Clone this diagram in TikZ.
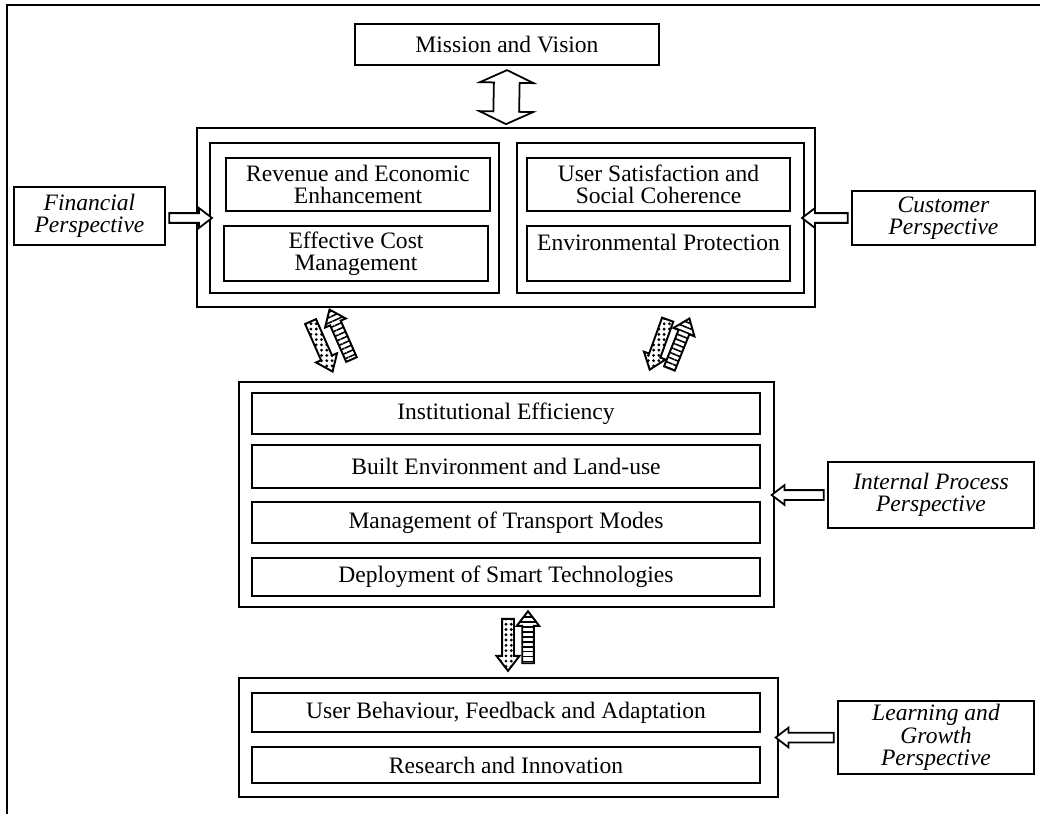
\documentclass[tikz,border=0pt]{standalone}
\usepackage{fontspec}
\setmainfont{Liberation Serif}
\usetikzlibrary{shapes.arrows,calc,patterns.meta}

\newcommand\diagfont{\fontsize{13.4}{12.8}\selectfont}
% block arrow node stretched between two points
\newcommand\blockarrow[3][]{%
  \path let \p1=(#2), \p2=(#3),
    \n1={veclen(\x2-\x1,\y2-\y1)}, \n2={atan2(\y2-\y1,\x2-\x1)} in
    node[#1, minimum height=\n1, rotate=\n2] at ($(\p1)!0.5!(\p2)$) {};}

\tikzset{
  frame/.style={line width=1pt},
  outerbox/.style={draw, line width=1pt, inner sep=0pt},
  groupbox/.style={draw, line width=1.4pt, inner sep=0pt},
  itembox/.style={draw, line width=1.3pt, align=center, inner sep=0pt, font=\diagfont},
  perspbox/.style={draw, line width=1.2pt, align=center, inner sep=0pt, font=\diagfont\itshape},
  linkarrow/.style={single arrow, draw, fill=white, line width=1pt, inner xsep=0pt,
    inner ysep=0.08cm, single arrow head extend=0.1cm, single arrow tip angle=75,
    minimum width=0.36cm},
  linkboth/.style={double arrow, draw, fill=white, line width=1pt, inner xsep=0pt,
    inner ysep=0.24cm, double arrow head extend=0.28cm, double arrow tip angle=130,
    minimum width=1.04cm},
  flowarrow/.style={single arrow, draw, line width=1.1pt, inner xsep=0pt,
    inner ysep=0.1cm, single arrow head extend=0.11cm, single arrow tip angle=75,
    minimum width=0.42cm},
  dotflow/.style={flowarrow, pattern={Dots[radius=0.9pt, distance=3pt]}},
  ladderflow/.style={flowarrow, pattern={Lines[angle=#1, distance=2.8pt, line width=0.9pt]}},
}

\begin{document}
\begin{tikzpicture}[x=0.02cm, y=-0.02cm]
\useasboundingbox (0,0) rectangle (1040,814);
\draw[frame] (7,814) -- (7,5) -- (1040,5);

% top level
\node[itembox, minimum width=6.08cm, minimum height=0.82cm] (mission) at (507,44.5) {Mission and Vision};
\node[outerbox, minimum width=12.36cm, minimum height=3.58cm] (topbox) at (506,217.5) {};
\node[groupbox, minimum width=5.78cm, minimum height=3cm] (inL) at (354.5,218) {};
\node[groupbox, minimum width=5.74cm, minimum height=3cm] (inR) at (660.5,218) {};
\node[itembox, minimum width=5.28cm, minimum height=1.06cm] (rev) at (358,184.5) {Revenue and Economic\\Enhancement};
\node[itembox, minimum width=5.28cm, minimum height=1.1cm] (cost) at (356,253.5) {Effective Cost\\Management};
\node[itembox, minimum width=5.26cm, minimum height=1.06cm] (user) at (658.5,184.5) {User Satisfaction and\\Social Coherence};
\node[itembox, minimum width=5.26cm, minimum height=1.1cm] (env) at (658.5,253.5) {Environmental Protection\\\mbox{}};

% internal processes
\node[outerbox, minimum width=10.7cm, minimum height=4.5cm] (mid) at (506.5,494.5) {};
\node[itembox, minimum width=10.16cm, minimum height=0.82cm] (inst) at (506,413.5) {Institutional Efficiency};
\node[itembox, minimum width=10.16cm, minimum height=0.86cm] (built) at (506,466.5) {Built Environment and Land-use};
\node[itembox, minimum width=10.16cm, minimum height=0.82cm] (mgmt) at (506,522.5) {Management of Transport Modes};
\node[itembox, minimum width=10.16cm, minimum height=0.76cm] (deploy) at (506,577) {Deployment of Smart Technologies};

% learning
\node[outerbox, minimum width=10.78cm, minimum height=2.38cm] (bot) at (508.5,737.5) {};
\node[itembox, minimum width=10.16cm, minimum height=0.78cm] (beh) at (506,712.5) {User Behaviour, Feedback and Adaptation};
\node[itembox, minimum width=10.16cm, minimum height=0.72cm] (res) at (506,765) {Research and Innovation};

% perspectives
\node[perspbox, minimum width=3.02cm, minimum height=1.16cm] (fin) at (89.5,216) {Financial\\Perspective};
\node[perspbox, minimum width=3.66cm, minimum height=1.08cm] (cust) at (943.5,218) {Customer\\Perspective};
\node[perspbox, minimum width=4.12cm, minimum height=1.32cm] (intp) at (931,495) {Internal Process\\Perspective};
\node[perspbox, minimum width=3.92cm, minimum height=1.46cm] (learn) at (936,737.5) {Learning and\\Growth\\Perspective};

\blockarrow[linkboth]{$(mission.south)+(0,4)$}{$(topbox.north)+(0,-3)$}
\blockarrow[linkarrow]{fin.east |- inL.west}{inL.west}
\blockarrow[linkarrow]{cust.west |- inR.east}{inR.east}
\blockarrow[linkarrow]{intp.west}{intp.west -| mid.east}
\blockarrow[linkarrow]{learn.west}{learn.west -| bot.east}

% links between levels
\coordinate (ldTail) at (309,318); \coordinate (ldTip) at (331,368);
\coordinate (luTail) at (353,363); \coordinate (luTip) at (331,313);
\coordinate (rdTail) at (669,316); \coordinate (rdTip) at (651,366);
\coordinate (ruTail) at (668,372); \coordinate (ruTip) at (688,322);
\coordinate (bdTail) at (508,615); \coordinate (bdTip) at (508,667);
\coordinate (buTail) at (528,667); \coordinate (buTip) at (528,615);
\blockarrow[dotflow]{ldTail}{ldTip}
\blockarrow[ladderflow=24]{luTail}{luTip}
\blockarrow[dotflow]{rdTail}{rdTip}
\blockarrow[ladderflow=-22]{ruTail}{ruTip}
\blockarrow[dotflow]{bdTail}{bdTip}
\blockarrow[ladderflow=0]{buTail}{buTip}
\end{tikzpicture}
\end{document}
